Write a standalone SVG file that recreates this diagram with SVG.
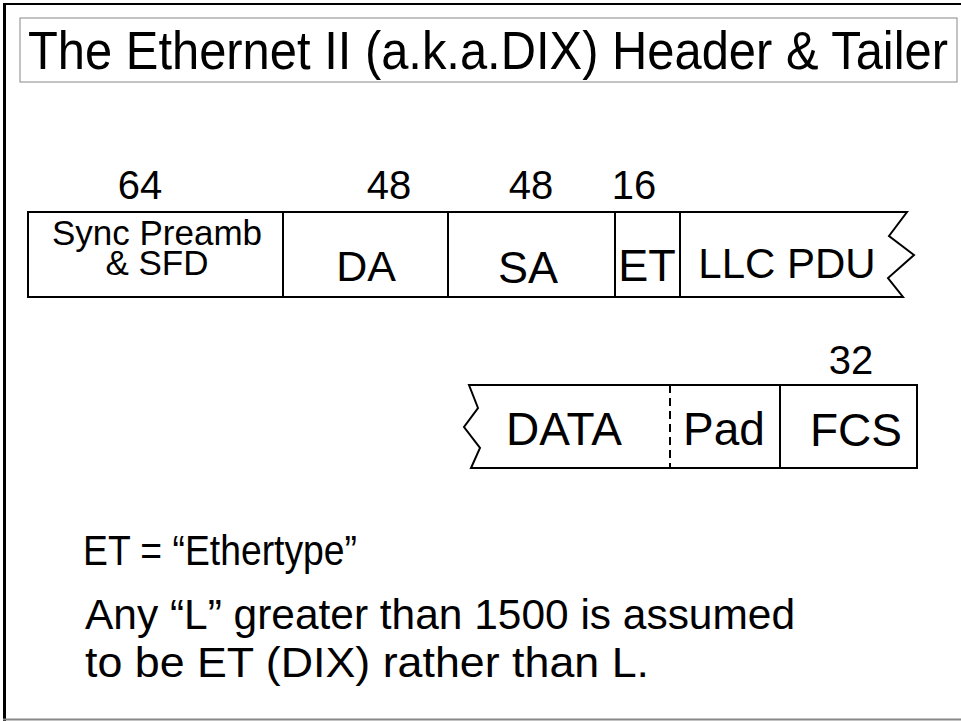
<svg xmlns="http://www.w3.org/2000/svg" width="961" height="721" viewBox="0 0 961 721">
<style>
.t{font-family:"Liberation Sans",Arimo,Arial,sans-serif;fill:#000}
.box{fill:#fff;stroke:#000;stroke-width:2}
.div{stroke:#000;stroke-width:2;fill:none}
</style>
<rect width="961" height="721" fill="#fff"/>
<g id="frame">
<line x1="4.5" y1="3" x2="4.5" y2="721" stroke="#000" stroke-width="3"/>
<line x1="3" y1="4" x2="961" y2="4" stroke="#000" stroke-width="2"/>
<line x1="3" y1="719.5" x2="961" y2="719.5" stroke="#888" stroke-width="2"/>
</g>
<g id="title">
<rect x="20" y="18" width="937" height="64" fill="#fff" stroke="#888" stroke-width="1"/>
<text class="t" x="28" y="69" font-size="53" textLength="920" lengthAdjust="spacingAndGlyphs">The Ethernet II (a.k.a.DIX)  Header &amp; Tailer</text>
</g>
<g id="bits" class="t" font-size="40" text-anchor="middle">
<text x="140" y="199">64</text>
<text x="389" y="199">48</text>
<text x="531" y="199">48</text>
<text x="634" y="199">16</text>
<text x="851" y="374">32</text>
</g>
<g id="header">
<path class="box" d="M28,212 H907 L889,236 L914,255 L888,278 L903,297 H28 Z"/>
<g class="div">
<line x1="283" y1="212" x2="283" y2="297"/>
<line x1="448" y1="212" x2="448" y2="297"/>
<line x1="615" y1="212" x2="615" y2="297"/>
<line x1="680" y1="212" x2="680" y2="297"/>
</g>
<g class="t" text-anchor="middle">
<text x="157" y="245" font-size="35">Sync Preamb</text>
<text x="157" y="275" font-size="35">&amp; SFD</text>
<text x="366" y="281" font-size="43">DA</text>
<text x="528" y="283" font-size="45">SA</text>
<text x="647" y="281" font-size="45">ET</text>
<text x="787" y="278" font-size="42">LLC PDU</text>
</g>
</g>
<g id="trailer">
<path class="box" d="M469,385 H917 V468 H471 L480,448 L464,427 L478,408 Z"/>
<line x1="670" y1="385" x2="670" y2="468" stroke="#000" stroke-width="2" stroke-dasharray="8,5"/>
<line class="div" x1="780" y1="385" x2="780" y2="468"/>
<g class="t" text-anchor="middle" font-size="46">
<text x="564" y="445">DATA</text>
<text x="724" y="445">Pad</text>
<text x="856" y="446">FCS</text>
</g>
</g>
<g id="notes" class="t">
<text x="83" y="565" font-size="42" textLength="274" lengthAdjust="spacingAndGlyphs">ET = “Ethertype”</text>
<text x="85" y="629" font-size="43" textLength="710" lengthAdjust="spacingAndGlyphs">Any “L” greater than 1500 is assumed</text>
<text x="85" y="677" font-size="43" textLength="564" lengthAdjust="spacingAndGlyphs">to be ET (DIX) rather than L.</text>
</g>
</svg>
